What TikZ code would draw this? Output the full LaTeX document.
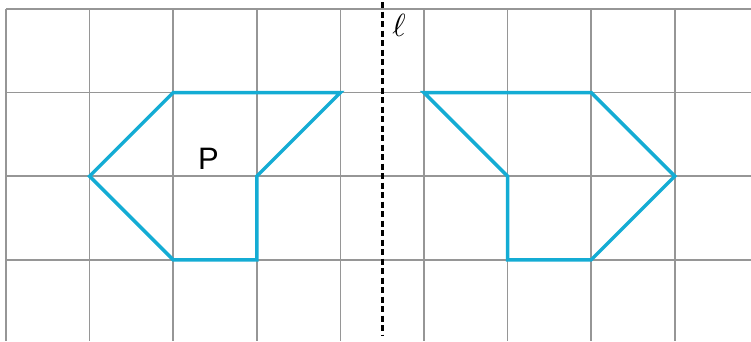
\documentclass[tikz,border=0pt]{standalone}
\usepackage{fontspec}
\setmainfont{Liberation Sans}
\definecolor{gridgray}{RGB}{150,150,150}
\definecolor{shapeblue}{RGB}{20,172,212}
\begin{document}
\begin{tikzpicture}[x=1pt,y=-1pt,
  gridline/.style={draw=gridgray,line width=1.6pt},
  poly/.style={draw=shapeblue,line width=3.4pt,line join=miter},
  axis/.style={draw=black,line width=2.8pt,dash pattern=on 6pt off 3.5pt}]
\useasboundingbox (0,0) rectangle (751,341);
\def\u{83.6}
% grid
\foreach \i in {0,...,8} \draw[gridline] ({6+\i*\u},9) -- ({6+\i*\u},341);
\foreach \j in {0,...,3} \draw[gridline] (6,{9+\j*\u}) -- (751,{9+\j*\u});
% left shape P
\coordinate (a1) at ({6+1*\u},{9+2*\u});
\coordinate (a2) at ({6+2*\u},{9+1*\u});
\coordinate (a3) at ({6+4*\u},{9+1*\u});
\coordinate (a4) at ({6+3*\u},{9+2*\u});
\coordinate (a5) at ({6+3*\u},{9+3*\u});
\coordinate (a6) at ({6+2*\u},{9+3*\u});
\draw[poly] (a1) -- (a2) -- (a3) -- (a4) -- (a5) -- (a6) -- cycle;
% right shape (mirror)
\coordinate (b1) at ({6+8*\u},{9+2*\u});
\coordinate (b2) at ({6+7*\u},{9+1*\u});
\coordinate (b3) at ({6+5*\u},{9+1*\u});
\coordinate (b4) at ({6+6*\u},{9+2*\u});
\coordinate (b5) at ({6+6*\u},{9+3*\u});
\coordinate (b6) at ({6+7*\u},{9+3*\u});
\draw[poly] (b1) -- (b2) -- (b3) -- (b4) -- (b5) -- (b6) -- cycle;
% axis
\coordinate (lt) at (382.8,2);
\coordinate (lb) at (382.8,336);
\draw[axis] (lt) -- (lb);
\node[scale=3.2,inner sep=0pt] (ell) at (399,25) {$\ell$};
\node[font=\fontsize{31}{31}\selectfont] (P) at (208.5,159) {P};
\end{tikzpicture}
\end{document}
